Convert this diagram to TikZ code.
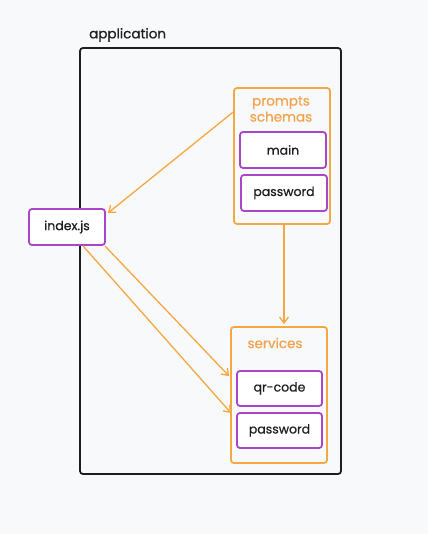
\documentclass[tikz,border=0pt]{standalone}
\usepackage{fontspec}
\setmainfont{Poppins}[FakeBold=0.7]
\usetikzlibrary{arrows.meta,calc}
\definecolor{bg}{HTML}{F8F9FA}
\definecolor{ink}{HTML}{1E1E1E}
\definecolor{amber}{HTML}{F5A742}
\definecolor{amberText}{HTML}{F2A34E}
\definecolor{violet}{HTML}{A945C9}
\tikzset{
  frame/.style={draw=ink, line width=1.8pt, rounded corners=3pt},
  group/.style={draw=amber, line width=1.8pt, rounded corners=3pt},
  item/.style={draw=violet, fill=white, line width=1.8pt, rounded corners=3pt,
    font=\fontsize{12.5}{14}\selectfont, text=ink, inner sep=0pt},
  caption/.style={font=\fontsize{13.5}{16}\selectfont, text=ink, inner sep=0pt},
  grouplabel/.style={font=\fontsize{13.5}{16}\selectfont, text=amberText, inner sep=0pt, align=center},
  link/.style={draw=amber, line width=1.3pt, -{Straight Barb[length=6pt,width=9pt,line width=1.3pt]}},
}
\begin{document}
\begin{tikzpicture}[x=1pt,y=-1pt]
  % canvas
  \fill[bg] (0,0) rectangle (428,534);
  \useasboundingbox (0,0) rectangle (428,534);

  % outer application frame
  \node[frame, minimum width=261pt, minimum height=426pt] (app) at (210.5,261) {};
  \node[caption, anchor=west] (applabel) at (89,35) {application};

  % prompts schemas group
  \node[group, minimum width=96pt, minimum height=136pt] (prompts) at (282,156) {};
  \node[grouplabel] (promptslabel) at (281,109) {prompts\\schemas};
  \node[item, minimum width=86pt, minimum height=36pt] (main) at (283,150) {main};
  \node[item, minimum width=86pt, minimum height=36pt] (pwschema) at (284,193) {password};

  % entry point
  \node[item, minimum width=76pt, minimum height=36pt] (index) at (67,227) {index.js};

  % services group
  \node[group, minimum width=96pt, minimum height=136pt] (services) at (279,395) {};
  \node[grouplabel] (serviceslabel) at (275,343) {services};
  \node[item, minimum width=85pt, minimum height=35pt] (qr) at (279.5,388.5) {qr-code};
  \node[item, minimum width=85pt, minimum height=35pt] (pwservice) at (279.5,430.5) {password};

  % connectors
  \draw[link] ([yshift=-25pt]prompts.north west) -- ([shift={(2pt,-5pt)}]index.north east);
  \draw[link] ([xshift=2pt]prompts.south) -- ([xshift=2pt,yshift=2pt]prompts.south |- services.north);
  \draw[link] ([xshift=-1pt]index.south east) -- ($(services.north west)+(-1,50)$);
  \draw[link] ($(index.south)+(16,0)$) -- ($(services.north west)+(1,87)$);
\end{tikzpicture}
\end{document}
